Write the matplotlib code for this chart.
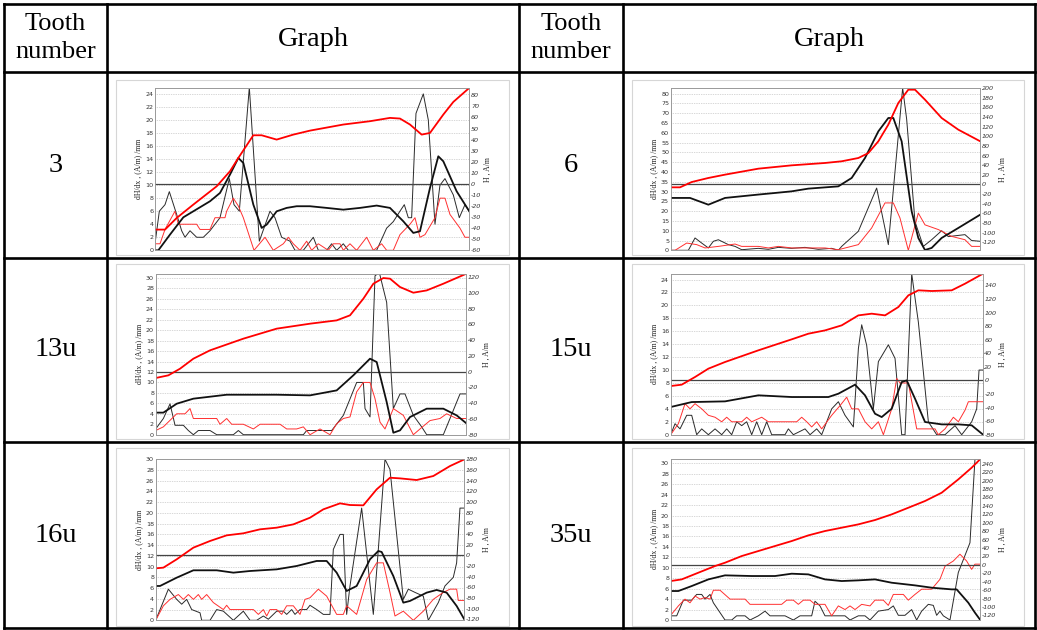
import numpy as np
import matplotlib
matplotlib.use("Agg")
import matplotlib.pyplot as plt
from matplotlib.lines import Line2D

plt.rcParams["axes.unicode_minus"] = False

# ---------------------------------------------------------------- data
tooth_labels = ["3", "6", "13u", "15u", "16u", "35u"]
header_left = "Tooth\nnumber"
header_graph = "Graph"
left_label = "dH/dx , (A/m) /mm"
right_label = "H , A/m"

# Tooth 3
t3_hx = [0, 3, 6.5, 11.5, 18.5, 22.5, 25, 29.5, 32, 36.5, 41.5, 46.5, 56.5, 64.5, 70.5, 73.5, 76.5, 80, 82.5, 86.5, 89.5, 94.3]
t3_h = [-41.3, -41.3, -30.8, -18.7, -2.2, 11.4, 23.4, 43.9, 43.9, 40, 44.5, 48.1, 53.6, 56.6, 59.6, 59, 53.6, 44.5, 46, 62.6, 74, 86.7]
t3_hnx = [0, 1, 4.5, 8.5, 16.5, 19.5, 22.5, 25, 26.5, 29.5, 32, 33.5, 36.5, 39.5, 42.5, 46.5, 51.5, 56.5, 61.5, 66.5, 70.5, 74.5, 77.5, 79.5, 82.5, 85, 86.5, 90.5, 94.3]
t3_hn = [-60, -60, -45.8, -30.2, -15.7, -8.2, 8.4, 23.4, 18.9, -18.7, -39.8, -36.8, -24.8, -21.7, -20.2, -20.2, -21.7, -23.3, -21.7, -19.6, -21.7, -33.8, -44.3, -42.8, -3.7, 24.9, 20.4, -6.7, -24.8]
t3_gx = [0, 1.3, 3, 4.3, 6.5, 8, 9, 10.5, 12.5, 14.5, 16.5, 19.5, 22.3, 23.7, 25.3, 28.3, 31.3, 34.5, 36, 38, 40.5, 42, 44.5, 47.5, 49, 51.5, 53, 54.5, 56.5, 58, 66.5, 69.5, 71.5, 73.5, 74.8, 76, 77, 78.3, 80.5, 82, 84, 85.5, 87, 89.5, 91.3, 93, 94.3]
t3_g = [1, 6, 7, 9, 5.5, 3, 2, 3, 2, 2, 3, 5, 11, 7, 6, 25, 1.4, 6, 5, 2, 1.4, 0, 0, 2, 0, 0, 1, 0, 1, 0, 0, 3.4, 4.4, 6, 7, 5, 5, 21, 24, 20, 4, 10, 11, 8.5, 5, 7, 6]
t3_gnx = [0, 1.5, 3, 6, 7, 12.5, 13.5, 16.5, 18, 21, 21.5, 23.5, 25, 26.5, 29.7, 33, 35.5, 38.5, 40, 41.5, 43.5, 45.5, 47, 49, 52, 53.5, 55.5, 56.5, 58.5, 60.5, 63.5, 65.5, 68, 69.5, 71.5, 73.5, 76.5, 78, 79.5, 81, 84, 85.5, 87, 88.5, 91.5, 93, 94.3]
t3_gn = [1, 1, 3.2, 6, 4, 4, 3.2, 3.2, 5, 5, 6, 8, 6.8, 5, 0, 2, 0, 1, 2, 1, 0, 1.4, 0, 1, 0, 1, 1, 0, 1, 0, 2, 0, 1, 0, 0, 2.4, 4, 5, 2, 2.4, 5, 8, 8, 5.5, 3.4, 2, 2]

# Tooth 6
t6_hx = [0, 2.8, 6.3, 11.3, 16.3, 26.3, 36.3, 46.3, 51.3, 56.3, 59.3, 62.3, 65.3, 68.3, 71.3, 73.3, 76.3, 81.3, 86.3, 92.9]
t6_h = [-6, -6, 5, 13.4, 20.3, 32.7, 39.6, 44.5, 48, 54.8, 65, 89.4, 124, 168.9, 196.5, 196.5, 175.8, 137.8, 113.6, 89.4]
t6_hnx = [0, 5.8, 11.3, 16.3, 26.3, 31.3, 36.3, 41.3, 50.3, 54.3, 58.3, 62.3, 65.3, 66.8, 69.3, 72.3, 74.3, 76.3, 78.3, 81.3, 86.3, 92.9]
t6_hn = [-28, -28, -42, -28, -21, -17.7, -14.3, -8.7, -4, 13.4, 54.8, 110, 137.8, 137.8, 89.4, -55.7, -111, -136, -131.7, -111, -90.3, -62.6]
t6_gx = [0, 5.3, 7.3, 9.3, 11.3, 12.8, 14.3, 17.3, 19.3, 21.3, 26.3, 29.3, 32.3, 36.3, 40.3, 44.3, 48.3, 50.3, 51.3, 56.3, 61.8, 65.3, 69.6, 70.8, 73.3, 75.8, 78.3, 81.3, 83.3, 88.3, 90.3, 92.9]
t6_g = [0, 0, 6.3, 3.7, 1.2, 4.6, 5.4, 2.9, 2, 0.3, 1, 0.5, 1.5, 1, 1.5, 0.5, 1, 0, 2, 9.7, 31.8, 2.9, 82.9, 67, 14.7, 2, 5.4, 10, 7, 8, 5, 4.6]
t6_gnx = [0, 1.3, 4.8, 7.8, 10.3, 14.3, 19.3, 21.3, 26.3, 29.3, 32.3, 36.3, 42.3, 46.3, 50.3, 56.3, 60.3, 64.3, 66.8, 68.8, 71.3, 74.3, 76.3, 80.3, 84.3, 88.3, 90.3, 92.9]
t6_gn = [0, 0, 3.7, 2.9, 1.2, 2, 3.2, 2, 2, 1.2, 2, 1.2, 1.2, 1.2, 0.3, 2.9, 11.4, 24.2, 24.2, 16.5, 0, 19, 13, 10.6, 7.1, 5.4, 2, 2]

# Tooth 13u
t13_hx = [0, 3.8, 7.3, 11.3, 16.3, 26.3, 36.3, 46.3, 54.3, 58.3, 62.3, 65.3, 68.3, 70.3, 73.3, 77.3, 81.3, 86.3, 93.1]
t13_h = [-8.1, -4.7, 3.7, 16.4, 27, 41.8, 54.5, 60.8, 65, 71.4, 92.5, 111.5, 118.7, 117.9, 107.3, 100.1, 103, 111.5, 124]
t13_hnx = [0, 2.3, 6.3, 11.3, 21.3, 36.3, 46.3, 54.3, 59.3, 64.3, 66.3, 69.3, 71.3, 73.3, 76.3, 81.3, 86.3, 90.3, 93.1]
t13_hn = [-52, -52, -40.7, -34.3, -29.3, -29.3, -30.1, -23.8, -4.7, 16.4, 12.2, -38.6, -77.5, -74.5, -57.6, -47, -47, -55.5, -65.2]
t13_gx = [0, 2.3, 4.3, 5.8, 8.3, 9.8, 11.3, 12.8, 16.3, 18.3, 23.3, 24.8, 26.3, 44.3, 45.3, 52.8, 56.3, 60.3, 62.3, 62.8, 64.3, 65.8, 67.1, 69.3, 71.3, 73.3, 74.8, 77.3, 79.8, 81.3, 86.3, 88.3, 91.3, 93.1]
t13_g = [1.1, 3.1, 5.9, 1.8, 1.8, 0.8, 0, 0.8, 0.8, 0, 0, 0.8, 0, 0, 0.8, 0.8, 3.7, 10, 10, 5, 3.4, 30.4, 31, 25.3, 5, 7.8, 7.8, 3.7, 1.5, 0, 0, 3.1, 7.8, 7.8]
t13_gnx = [0, 2.3, 6.3, 8.8, 10.3, 11.3, 18.3, 19.3, 21.3, 22.8, 26.3, 29.3, 31.3, 37.3, 39.3, 42.3, 44.3, 46.3, 49.3, 52.3, 54.3, 56.3, 58.3, 60.3, 62.3, 64.3, 65.8, 67.3, 68.8, 71.3, 74.3, 77.3, 79.3, 82.3, 85.3, 87.3, 90.3, 93.1]
t13_gn = [0.8, 1.5, 4, 4, 5, 3.1, 3.1, 2, 3.1, 2, 2, 1.1, 2, 2, 1.1, 1.1, 1.5, 0, 1.1, 0, 2.1, 3.1, 3.4, 8.2, 10, 10, 6.9, 2.4, 1.1, 5, 3.7, 0, 1.1, 2.7, 3.1, 4, 3.1, 3.1]

# Tooth 15u
t15_hx = [0, 3.3, 7.3, 11.3, 16.3, 26.3, 36.3, 41.3, 46.3, 51.3, 56.3, 60.3, 64.3, 68.3, 71.3, 74.3, 78.3, 84.3, 88.3, 93.6]
t15_h = [-8.3, -6.3, 5, 17.3, 27.1, 44.3, 60.5, 68.8, 73.7, 81.1, 95.8, 98.3, 95.8, 108.1, 125.3, 132.7, 131.7, 132.7, 142.5, 157]
t15_hnx = [0, 6.3, 16.3, 26.3, 36.3, 47.3, 50.3, 55.3, 58.3, 61.3, 63.3, 66.3, 69.3, 70.8, 73.3, 76.3, 81.3, 86.3, 90.3, 93.6]
t15_hn = [-39.2, -31.9, -30.9, -22, -24.5, -24.5, -19.6, -6.3, -22, -49.1, -54, -41.7, -2.4, 0, -27, -61.3, -64.8, -64.8, -66.2, -79.5]
t15_gx = [0, 1.3, 2.8, 4.8, 6.3, 7.8, 9.3, 11.3, 13.3, 15.3, 16.8, 18.3, 19.8, 21.3, 22.8, 24.3, 25.8, 27.3, 28.8, 30.3, 34.3, 35.3, 36.8, 40.3, 41.8, 43.8, 45.3, 48.3, 50.3, 52.3, 54.8, 56.3, 57.3, 58.8, 60.8, 62.3, 65.3, 67.3, 69.3, 70.3, 72.3, 74.3, 77.3, 79.8, 82.3, 85.3, 87.3, 90.3, 91.8, 92.5, 93.6]
t15_g = [0, 1.7, 0.9, 3, 3, 0, 0.9, 0, 0.9, 0, 0.9, 0, 2, 1.4, 2, 0, 2, 0, 2, 0, 0, 0.9, 0, 0.9, 0, 0.9, 0, 4, 5.1, 3, 1.2, 13.3, 17, 13.8, 4, 11.3, 13.9, 11.8, 0, 0, 24.9, 17.4, 2, 0, 0, 1.4, 0, 2, 4, 10, 10]
t15_gnx = [0, 2.3, 4.3, 5.8, 7.3, 9.3, 11.3, 13.3, 15.3, 16.8, 18.3, 21.3, 22.8, 24.3, 27.3, 29.3, 37.8, 39.3, 40.8, 42.3, 43.8, 45.3, 48.3, 50.8, 52.8, 54.3, 56.3, 58.3, 60.3, 62.3, 63.8, 66.3, 67.8, 68.8, 71.3, 73.8, 79.3, 80.3, 82.3, 84.8, 86.3, 88.3, 89.3, 93.6]
t15_gn = [0, 1.7, 4.8, 4, 4.8, 4, 3, 2.7, 2, 2.7, 2, 2, 2.7, 2, 2.7, 2, 2, 2.7, 2, 1.2, 2, 0.9, 3, 4.5, 5.8, 4, 4, 2, 0.9, 2, 0, 4, 8.7, 8, 8, 0.9, 0.9, 0, 0.9, 2.7, 2, 3.8, 5.1, 5.1]

# Tooth 16u
t16_hx = [0, 2.3, 6.3, 11.3, 16.3, 21.3, 26.3, 31.3, 36.3, 41.3, 46.3, 50.3, 55.3, 58.3, 62.3, 66.3, 70.3, 73.3, 78.3, 83.3, 88.3, 92.6]
t16_h = [-24.4, -23.1, -7.5, 14.4, 26.9, 37.5, 41.3, 48.8, 51.9, 58.1, 70.6, 86.3, 97.5, 94.4, 93.8, 123.8, 145.6, 144.4, 141.3, 148.8, 167.5, 180]
t16_hnx = [0, 1.3, 6.3, 11.3, 18.3, 23.3, 28.3, 36.3, 42.3, 48.3, 51.3, 54.3, 57.3, 60.3, 64.3, 66.8, 67.8, 71.3, 74.3, 76.3, 81.3, 84.3, 87.3, 90.3, 92.6]
t16_hn = [-57.5, -57.5, -41.9, -28.1, -28.1, -32.5, -29.4, -26.3, -20, -10.6, -10.6, -32.5, -66.9, -57.5, -7.5, 8.1, 6.3, -38.8, -88.8, -85.6, -70, -65, -70, -95, -120]
t16_gx = [0, 3.8, 6.3, 7.8, 9.3, 10.8, 13.3, 13.8, 16.3, 18.3, 20.3, 23.3, 26.3, 28.3, 30.3, 32.3, 33.8, 36.3, 38.3, 39.3, 40.8, 41.8, 43.3, 45.3, 46.3, 48.3, 50.3, 52.3, 53.3, 55.3, 56.3, 57.3, 58.3, 61.8, 65.3, 66.8, 68.8, 70.3, 74.3, 75.8, 77.8, 80.3, 81.8, 84.8, 86.8, 89.3, 90.3, 91.3, 92.6]
t16_g = [0, 5.8, 3.9, 3, 3.9, 2, 1.4, 0, 0, 2, 1.7, 0, 1.7, 0, 0, 0.8, 0.2, 1.7, 1.7, 1.1, 2, 1.1, 2, 2, 2.8, 2, 1.1, 1.1, 13.2, 16, 16, 1.1, 6.4, 20.9, 1.1, 13.2, 30, 28.1, 3.9, 5.8, 5.2, 4.5, 0, 3.3, 6.4, 8, 10.7, 20.9, 20.9]
t16_gnx = [0, 2.3, 4.3, 6.8, 8.3, 9.8, 11.3, 12.8, 13.8, 15.3, 17.3, 20.3, 21.3, 22.3, 29.3, 30.8, 32.3, 33.3, 34.3, 36.3, 37.8, 39.3, 41.3, 43.3, 44.8, 46.3, 48.8, 51.3, 54.3, 56.3, 57.3, 60.3, 63.3, 66.3, 68.3, 70.3, 71.8, 74.3, 77.3, 80.3, 83.3, 86.3, 88.3, 90.3, 90.8, 92.6]
t16_gn = [0, 2.7, 3.9, 4.8, 3.9, 4.8, 3.9, 4.8, 3.9, 4.8, 3.3, 2, 2.8, 2, 2, 1.1, 2, 0.8, 2, 2, 1.1, 2.7, 2.7, 1.1, 3.9, 4.2, 5.8, 4.5, 1.1, 1.1, 2.7, 1.1, 7.6, 10.7, 10.7, 5.2, 0.8, 1.7, 0, 1.7, 3.9, 5.2, 5.8, 5.8, 3.7, 3.7]

# Tooth 35u
t35_hx = [0, 3.3, 8.3, 13.3, 16.3, 21.3, 26.3, 31.3, 36.3, 41.3, 46.3, 51.3, 56.3, 61.3, 66.3, 71.3, 76.3, 81.3, 86.3, 90.3, 92.9]
t35_h = [-38.5, -34.6, -18.7, -2.9, 5, 20.8, 32.7, 44.6, 56.4, 69.9, 80.2, 88.1, 96, 106.3, 119.7, 135.5, 151.4, 171.1, 202.8, 230.5, 251]
t35_hnx = [0, 2.3, 6.3, 11.3, 16.3, 24.3, 31.3, 36.3, 41.3, 46.3, 51.3, 56.3, 61.3, 66.3, 73.3, 78.3, 84.3, 85.8, 89.3, 91.3, 92.9]
t35_hn = [-62.2, -62.2, -50.4, -34.6, -25, -26.6, -26.6, -21.1, -22.7, -34.6, -38.5, -36.9, -34.6, -42.5, -48.8, -54.3, -58.3, -58.3, -90, -113.7, -131]
t35_gx = [0, 1.8, 3.8, 6.3, 7.8, 9.3, 10.3, 11.8, 12.8, 16.3, 18.3, 19.8, 22.3, 23.8, 26.3, 28.3, 29.8, 34.3, 36.8, 38.8, 42.3, 43.3, 44.8, 46.3, 52.3, 53.8, 56.3, 58.3, 59.8, 62.3, 65.3, 66.8, 68.3, 70.3, 72.3, 73.8, 75.3, 77.3, 78.8, 79.8, 80.8, 81.8, 83.8, 86.3, 89.8, 91.3, 92.9]
t35_g = [0.8, 0.8, 3.8, 3.8, 4.9, 4.9, 4, 4.9, 3.3, 0, 0, 0.8, 0.8, 0, 0.8, 1.7, 0.8, 0.8, 0, 0.8, 0.8, 3.6, 2.7, 0.8, 0.8, 0, 0.8, 0.8, 0, 1.7, 2, 2.7, 0.9, 0.9, 2, 0, 1.7, 3, 2.8, 0.9, 1.7, 0.8, 0, 9.1, 14.8, 30.8, 30.8]
t35_gnx = [0, 2.3, 4.3, 5.8, 7.3, 8.8, 10.3, 11.8, 12.8, 14.8, 17.8, 22.3, 23.8, 33.3, 34.8, 36.8, 38.3, 39.8, 41.8, 43.3, 46.3, 48.3, 50.3, 52.3, 53.8, 55.3, 57.3, 59.8, 61.3, 63.8, 65.3, 66.8, 69.8, 71.3, 73.3, 75.3, 78.3, 80.8, 82.3, 84.8, 86.8, 88.8, 90.3, 91.3, 92.9]
t35_gn = [0.9, 2.7, 4, 3.3, 4.6, 4, 4.3, 4, 5.7, 5.7, 4, 4, 3, 3, 3.8, 3.8, 3, 3.8, 3.8, 3, 3, 0.8, 2.7, 2, 2.7, 2, 3, 2.7, 3.8, 3.8, 2.8, 4.9, 4.9, 3.8, 4.9, 5.9, 5.9, 7.8, 10.3, 11.3, 12.6, 11.3, 9.7, 10.7, 10.7]

# ---------------------------------------------------------------- layout
W, H = 1037, 630
fig = plt.figure(figsize=(W / 100, H / 100), dpi=100)
fig.patch.set_facecolor("white")

def fx(x):
    return x / W

def fy(y):
    return 1 - y / H

# table rules
col_edges = [4, 107, 519, 623, 1035]
row_edges = [4, 72, 258, 442, 628]
for x in col_edges:
    fig.add_artist(Line2D([fx(x), fx(x)], [fy(row_edges[0]), fy(row_edges[-1])],
                          color="black", lw=1.9, solid_capstyle="projecting"))
for y in row_edges:
    fig.add_artist(Line2D([fx(col_edges[0]), fx(col_edges[-1])], [fy(y), fy(y)],
                          color="black", lw=1.9, solid_capstyle="projecting"))

serif = "Liberation Serif"
fig.text(fx((col_edges[0] + col_edges[1]) / 2), fy(38), header_left, ha="center", va="center",
         family=serif, fontsize=19, linespacing=1.3)
fig.text(fx((col_edges[2] + col_edges[3]) / 2), fy(38), header_left, ha="center", va="center",
         family=serif, fontsize=19, linespacing=1.3)
fig.text(fx((col_edges[1] + col_edges[2]) / 2), fy(39), header_graph, ha="center", va="center",
         family=serif, fontsize=20.5)
fig.text(fx((col_edges[3] + col_edges[4]) / 2), fy(39), header_graph, ha="center", va="center",
         family=serif, fontsize=20.5)

panels = [
    dict(label=tooth_labels[0], box=(155, 469.3, 88, 250.3), frame=(116, 509, 80, 255),
         ylim=(0, 24.9), yticks=np.arange(0, 25, 2), rlim=(-60, 86.6), rticks=np.arange(-60, 81, 10),
         h=(t3_hx, t3_h), hn=(t3_hnx, t3_hn), g=(t3_gx, t3_g), gn=(t3_gnx, t3_gn)),
    dict(label=tooth_labels[1], box=(670.7, 980.3, 88, 250.3), frame=(632, 1024, 80, 255),
         ylim=(0, 82.9), yticks=np.arange(0, 81, 5), rlim=(-136.6, 200), rticks=np.arange(-120, 201, 20),
         h=(t6_hx, t6_h), hn=(t6_hnx, t6_hn), g=(t6_gx, t6_g), gn=(t6_gnx, t6_gn)),
    dict(label=tooth_labels[2], box=(155.7, 466, 273.7, 434.7), frame=(116, 509, 264, 439),
         ylim=(0, 30.8), yticks=np.arange(0, 31, 2), rlim=(-80, 124.2), rticks=np.arange(-80, 121, 20),
         h=(t13_hx, t13_h), hn=(t13_hnx, t13_hn), g=(t13_gx, t13_g), gn=(t13_gnx, t13_gn)),
    dict(label=tooth_labels[3], box=(670.7, 982.7, 273.7, 434.7), frame=(632, 1024, 264, 439),
         ylim=(0, 24.9), yticks=np.arange(0, 25, 2), rlim=(-80, 157.2), rticks=np.arange(-80, 141, 20),
         h=(t15_hx, t15_h), hn=(t15_hnx, t15_hn), g=(t15_gx, t15_g), gn=(t15_gnx, t15_gn)),
    dict(label=tooth_labels[4], box=(155.7, 464.3, 458.7, 620.3), frame=(116, 509, 448, 626),
         ylim=(0, 30.1), yticks=np.arange(0, 31, 2), rlim=(-121.9, 181.3), rticks=np.arange(-120, 181, 20),
         h=(t16_hx, t16_h), hn=(t16_hnx, t16_hn), g=(t16_gx, t16_g), gn=(t16_gnx, t16_gn)),
    dict(label=tooth_labels[5], box=(670.7, 980.3, 458.7, 620), frame=(632, 1024, 448, 626),
         ylim=(0, 30.9), yticks=np.arange(0, 31, 2), rlim=(-131, 251.9), rticks=np.arange(-120, 241, 20),
         h=(t35_hx, t35_h), hn=(t35_hnx, t35_hn), g=(t35_gx, t35_g), gn=(t35_gnx, t35_gn)),
]

label_cols = [(col_edges[0] + col_edges[1]) / 2, (col_edges[2] + col_edges[3]) / 2]
row_mid = [(row_edges[i] + row_edges[i + 1]) / 2 for i in range(1, 4)]

tick_col = "#333333"
for i, p in enumerate(panels):
    fig.text(fx(label_cols[i % 2]), fy(row_mid[i // 2]), p["label"], ha="center", va="center",
             family=serif, fontsize=20.5)

    # light frame of the embedded plot picture
    fl, fr, ft, fb = p["frame"]
    fig.add_artist(plt.Rectangle((fx(fl), fy(fb)), fx(fr - fl), (fb - ft) / H, fill=False,
                                 edgecolor="#d6d6d6", lw=0.8))

    l, r, t, b = p["box"]
    ax = fig.add_axes([fx(l), fy(b), fx(r - l), (b - t) / H])
    axr = ax.twinx()
    xmax = max(p["h"][0][-1], p["g"][0][-1])

    ax.set_xlim(0, xmax)
    ax.set_ylim(*p["ylim"])
    ax.set_yticks(p["yticks"])
    ax.set_xticks([])
    ax.grid(axis="y", color="#b0b0b0", lw=0.5, ls=(0, (1, 1.5)))
    ax.set_axisbelow(True)
    axr.set_ylim(*p["rlim"])
    axr.set_yticks(p["rticks"])

    for a in (ax, axr):
        for s in a.spines.values():
            s.set_color("#9a9a9a")
            s.set_linewidth(0.6)
        a.tick_params(axis="y", length=0, pad=1.2, labelsize=4.6, labelcolor=tick_col)
    for tl in axr.get_yticklabels():
        tl.set_fontstyle("italic")

    ax.set_ylabel(left_label, family=serif, fontsize=5.6, labelpad=2, color="#222222")
    axr.set_ylabel(right_label, family=serif, fontsize=5.6, labelpad=2, color="#222222")

    # zero level of H
    axr.axhline(0, color="#444444", lw=0.9)

    # gradient curves on the left axis
    ax.plot(*p["g"], color="#2a2a2a", lw=0.7)
    ax.plot(*p["gn"], color="#ff3030", lw=0.7)
    # field curves on the right axis
    axr.plot(*p["hn"], color="#111111", lw=1.3)
    axr.plot(*p["h"], color="#ff0000", lw=1.3)
    axr.set_xlim(0, xmax)

fig.savefig("out.png", dpi=100)
